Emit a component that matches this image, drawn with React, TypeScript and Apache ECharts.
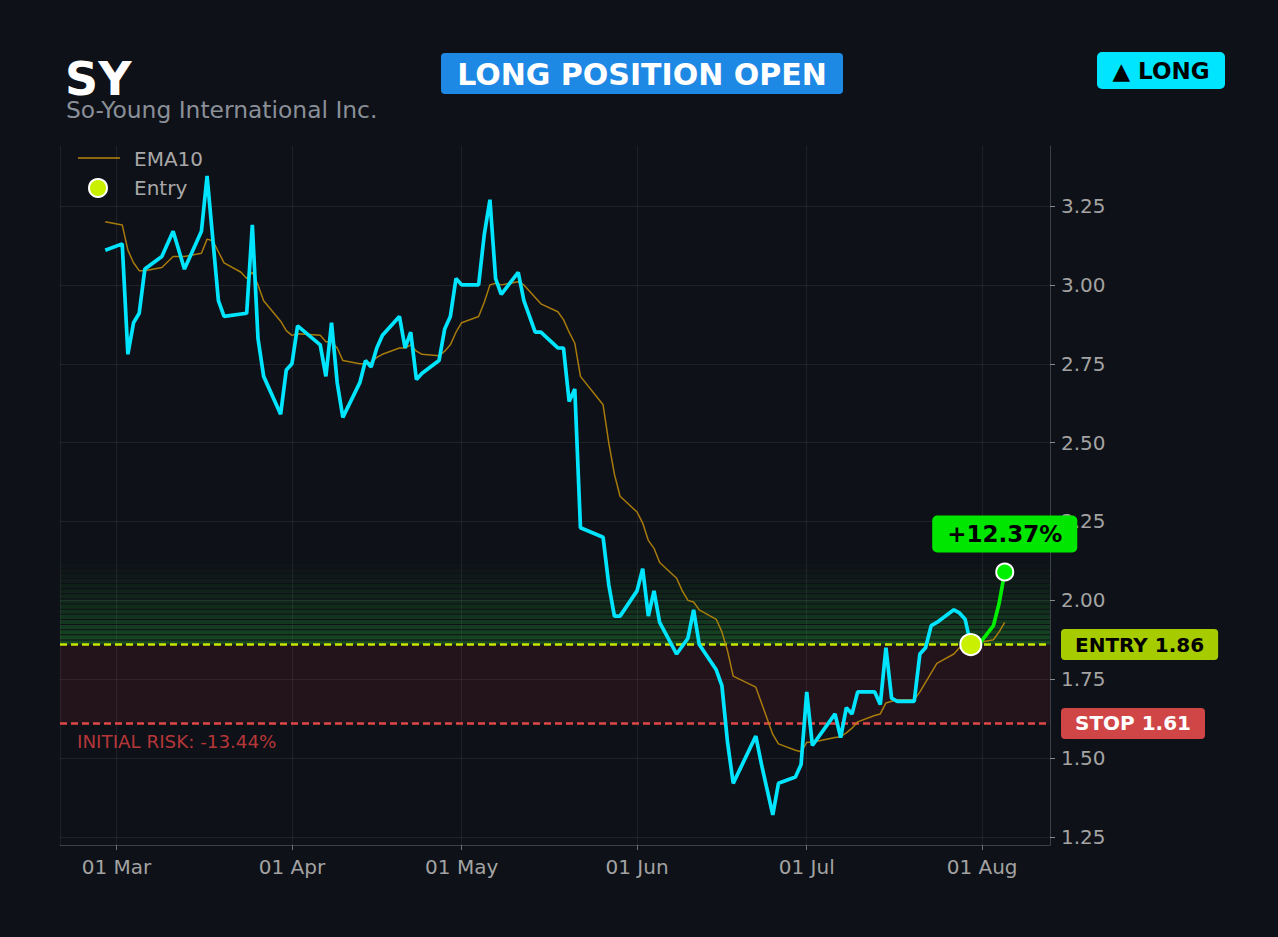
import React, { useEffect, useRef } from 'react';
import * as echarts from 'echarts';

const TICKER = 'SY';
const COMPANY = 'So-Young International Inc.';
const STATUS = 'LONG POSITION OPEN';
const SIDE = '▲ LONG';

const ENTRY = 1.86;
const STOP = 1.61;
const ZONE_TOP = 2.12;

const X_MIN = '2026-02-19';
const X_MAX = '2026-08-13';
const Y_MIN = 1.2246;
const Y_MAX = 3.4402;
const Y_TICKS = [1.25, 1.5, 1.75, 2.0, 2.25, 2.5, 2.75, 3.0, 3.25];
const MONTHS = ['Jan', 'Feb', 'Mar', 'Apr', 'May', 'Jun', 'Jul', 'Aug', 'Sep', 'Oct', 'Nov', 'Dec'];

const PRICE: [string, number][] = [
  ['2026-02-27', 3.11], ['2026-03-02', 3.13], ['2026-03-03', 2.78], ['2026-03-04', 2.88],
  ['2026-03-05', 2.91], ['2026-03-06', 3.05], ['2026-03-09', 3.09], ['2026-03-11', 3.17],
  ['2026-03-13', 3.05], ['2026-03-16', 3.17], ['2026-03-17', 3.345], ['2026-03-19', 2.95],
  ['2026-03-20', 2.90], ['2026-03-24', 2.91], ['2026-03-25', 3.19], ['2026-03-26', 2.83],
  ['2026-03-27', 2.71], ['2026-03-30', 2.59], ['2026-03-31', 2.73], ['2026-04-01', 2.75],
  ['2026-04-02', 2.87], ['2026-04-06', 2.81], ['2026-04-07', 2.71], ['2026-04-08', 2.88],
  ['2026-04-09', 2.69], ['2026-04-10', 2.58], ['2026-04-13', 2.69], ['2026-04-14', 2.76],
  ['2026-04-15', 2.74], ['2026-04-16', 2.80], ['2026-04-17', 2.84], ['2026-04-20', 2.90],
  ['2026-04-21', 2.80], ['2026-04-22', 2.85], ['2026-04-23', 2.70], ['2026-04-24', 2.72],
  ['2026-04-27', 2.76], ['2026-04-28', 2.86], ['2026-04-29', 2.90], ['2026-04-30', 3.02],
  ['2026-05-01', 3.00], ['2026-05-04', 3.00], ['2026-05-05', 3.16], ['2026-05-06', 3.27],
  ['2026-05-07', 3.02], ['2026-05-08', 2.97], ['2026-05-11', 3.04], ['2026-05-12', 2.95],
  ['2026-05-14', 2.85], ['2026-05-15', 2.85], ['2026-05-18', 2.80], ['2026-05-19', 2.80],
  ['2026-05-20', 2.63], ['2026-05-21', 2.67], ['2026-05-22', 2.23], ['2026-05-26', 2.20],
  ['2026-05-27', 2.05], ['2026-05-28', 1.95], ['2026-05-29', 1.95], ['2026-06-01', 2.03],
  ['2026-06-02', 2.10], ['2026-06-03', 1.95], ['2026-06-04', 2.03], ['2026-06-05', 1.93],
  ['2026-06-08', 1.83], ['2026-06-10', 1.88], ['2026-06-11', 1.97], ['2026-06-12', 1.86],
  ['2026-06-15', 1.78], ['2026-06-16', 1.73], ['2026-06-17', 1.55], ['2026-06-18', 1.42],
  ['2026-06-22', 1.57], ['2026-06-23', 1.48], ['2026-06-25', 1.32], ['2026-06-26', 1.42],
  ['2026-06-29', 1.44], ['2026-06-30', 1.48], ['2026-07-01', 1.71], ['2026-07-02', 1.54],
  ['2026-07-06', 1.64], ['2026-07-07', 1.565], ['2026-07-08', 1.66], ['2026-07-09', 1.64],
  ['2026-07-10', 1.71], ['2026-07-13', 1.71], ['2026-07-14', 1.67], ['2026-07-15', 1.85],
  ['2026-07-16', 1.69], ['2026-07-17', 1.68], ['2026-07-20', 1.68], ['2026-07-21', 1.83],
  ['2026-07-22', 1.85], ['2026-07-23', 1.92], ['2026-07-24', 1.93], ['2026-07-27', 1.97],
  ['2026-07-28', 1.96], ['2026-07-29', 1.94], ['2026-07-30', 1.86],
];

const AFTER_ENTRY: [string, number][] = [
  ['2026-07-30', 1.86], ['2026-07-31', 1.85], ['2026-08-03', 1.92], ['2026-08-04', 1.99], ['2026-08-05', 2.09],
];

const EMA10: [string, number][] = [
  ['2026-02-27', 3.20], ['2026-03-02', 3.19], ['2026-03-03', 3.11], ['2026-03-04', 3.07],
  ['2026-03-05', 3.045], ['2026-03-06', 3.045], ['2026-03-09', 3.055], ['2026-03-11', 3.09],
  ['2026-03-13', 3.09], ['2026-03-16', 3.10], ['2026-03-17', 3.145], ['2026-03-18', 3.14],
  ['2026-03-19', 3.105], ['2026-03-20', 3.07], ['2026-03-23', 3.04], ['2026-03-24', 3.02],
  ['2026-03-25', 3.04], ['2026-03-26', 3.00], ['2026-03-27', 2.95], ['2026-03-30', 2.885],
  ['2026-03-31', 2.855], ['2026-04-01', 2.84], ['2026-04-02', 2.845], ['2026-04-06', 2.84],
  ['2026-04-07', 2.82], ['2026-04-08', 2.82], ['2026-04-09', 2.80], ['2026-04-10', 2.76],
  ['2026-04-13', 2.75], ['2026-04-14', 2.75], ['2026-04-15', 2.755], ['2026-04-16', 2.77],
  ['2026-04-17', 2.78], ['2026-04-20', 2.80], ['2026-04-21', 2.80], ['2026-04-22', 2.81],
  ['2026-04-23', 2.79], ['2026-04-24', 2.78], ['2026-04-27', 2.775], ['2026-04-28', 2.79],
  ['2026-04-29', 2.81], ['2026-04-30', 2.85], ['2026-05-01', 2.88], ['2026-05-04', 2.90],
  ['2026-05-05', 2.945], ['2026-05-06', 3.00], ['2026-05-07', 3.005], ['2026-05-08', 3.00],
  ['2026-05-11', 3.01], ['2026-05-12', 3.00], ['2026-05-13', 2.98], ['2026-05-14', 2.96],
  ['2026-05-15', 2.94], ['2026-05-18', 2.915], ['2026-05-19', 2.89], ['2026-05-20', 2.85],
  ['2026-05-21', 2.815], ['2026-05-22', 2.71], ['2026-05-26', 2.62], ['2026-05-27', 2.50],
  ['2026-05-28', 2.40], ['2026-05-29', 2.33], ['2026-06-01', 2.28], ['2026-06-02', 2.245],
  ['2026-06-03', 2.19], ['2026-06-04', 2.165], ['2026-06-05', 2.12], ['2026-06-08', 2.07],
  ['2026-06-09', 2.03], ['2026-06-10', 2.00], ['2026-06-11', 1.995], ['2026-06-12', 1.97],
  ['2026-06-15', 1.94], ['2026-06-16', 1.90], ['2026-06-17', 1.84], ['2026-06-18', 1.76],
  ['2026-06-22', 1.725], ['2026-06-23', 1.675], ['2026-06-24', 1.625], ['2026-06-25', 1.575],
  ['2026-06-26', 1.545], ['2026-06-29', 1.525], ['2026-06-30', 1.52], ['2026-07-01', 1.55],
  ['2026-07-02', 1.55], ['2026-07-06', 1.565], ['2026-07-07', 1.568], ['2026-07-08', 1.58],
  ['2026-07-09', 1.595], ['2026-07-10', 1.615], ['2026-07-13', 1.635], ['2026-07-14', 1.64],
  ['2026-07-15', 1.675], ['2026-07-16', 1.68], ['2026-07-17', 1.685], ['2026-07-20', 1.685],
  ['2026-07-21', 1.71], ['2026-07-22', 1.74], ['2026-07-23', 1.77], ['2026-07-24', 1.80],
  ['2026-07-27', 1.83], ['2026-07-28', 1.85], ['2026-07-29', 1.87], ['2026-07-30', 1.87],
  ['2026-07-31', 1.865], ['2026-08-03', 1.875], ['2026-08-04', 1.90], ['2026-08-05', 1.93],
];

const FONT = '"DejaVu Sans", sans-serif';
const BG = '#0e1117';

function buildOption() {
  const last = AFTER_ENTRY[AFTER_ENTRY.length - 1];
  const gainPct = ((last[1] - ENTRY) / ENTRY) * 100;
  const riskPct = ((STOP - ENTRY) / ENTRY) * 100;
  const gainText = (gainPct >= 0 ? '+' : '') + gainPct.toFixed(2) + '%';
  const riskText = 'INITIAL RISK: ' + riskPct.toFixed(2) + '%';

  const N = 16;
  const step = (ZONE_TOP - ENTRY) / N;
  const zones: any[] = [];
  zones.push([{ yAxis: STOP, itemStyle: { color: 'rgba(220,50,60,0.10)' } }, { yAxis: ENTRY }]);
  for (let i = 0; i < N; i++) {
    const lo = ENTRY + i * step;
    const hi = lo + step * 0.8;
    const a = 0.015 + 0.35 * Math.pow(1 - i / N, 1.3);
    zones.push([{ yAxis: lo, itemStyle: { color: `rgba(40,170,55,${a.toFixed(3)})` } }, { yAxis: hi }]);
  }

  const gridColor = 'rgba(255,255,255,0.07)';
  const axisColor = '#3b3f46';
  const labelColor = '#a3a3a3';

  return {
    animation: false,
    backgroundColor: BG,
    textStyle: { fontFamily: FONT },
    grid: { left: 60, right: 228, top: 146, bottom: 92 },
    xAxis: {
      type: 'time',
      min: X_MIN,
      max: X_MAX,
      minInterval: 28 * 86400000,
      maxInterval: 31 * 86400000,
      axisLine: { show: true, lineStyle: { color: axisColor, width: 1 } },
      axisTick: { show: true, length: 5, lineStyle: { color: '#6b6f76' } },
      splitLine: { show: true, lineStyle: { color: gridColor, width: 1 } },
      axisLabel: {
        color: labelColor,
        fontSize: 20,
        margin: 12,
        fontFamily: FONT,
        formatter: (v: number) => {
          const d = new Date(v);
          return String(d.getDate()).padStart(2, '0') + ' ' + MONTHS[d.getMonth()];
        },
      },
    },
    yAxis: {
      type: 'value',
      position: 'right',
      min: Y_MIN,
      max: Y_MAX,
      axisLine: { show: true, lineStyle: { color: axisColor, width: 1 } },
      axisTick: { show: true, length: 5, customValues: Y_TICKS, lineStyle: { color: '#8a8a8a' } },
      splitLine: { show: true, lineStyle: { color: gridColor, width: 1 } },
      axisLabel: {
        customValues: Y_TICKS,
        color: labelColor,
        fontSize: 20,
        margin: 11,
        fontFamily: FONT,
        formatter: (v: number) => v.toFixed(2),
      },
    },
    graphic: [
      { type: 'text', x: 65, y: 79, style: { text: TICKER, fill: '#ffffff', font: `bold 46px ${FONT}`, align: 'left', verticalAlign: 'middle', textAlign: 'left', textVerticalAlign: 'middle' } },
      { type: 'text', x: 66, y: 110, style: { text: COMPANY, fill: '#8a8f98', font: `23.4px ${FONT}`, align: 'left', verticalAlign: 'middle', textAlign: 'left', textVerticalAlign: 'middle' } },
      { type: 'rect', shape: { x: 441, y: 53, width: 402, height: 41, r: 4 }, style: { fill: '#1e88e5' } },
      { type: 'text', x: 642, y: 74, style: { text: STATUS, fill: '#ffffff', font: `bold 30px ${FONT}`, align: 'center', verticalAlign: 'middle', textAlign: 'center', textVerticalAlign: 'middle' } },
      { type: 'rect', shape: { x: 1097, y: 52, width: 128, height: 37, r: 5 }, style: { fill: '#00e5ff' } },
      { type: 'text', x: 1161, y: 71, style: { text: SIDE, fill: '#000000', font: `bold 23px ${FONT}`, align: 'center', verticalAlign: 'middle', textAlign: 'center', textVerticalAlign: 'middle' } },
      { type: 'line', shape: { x1: 78, y1: 158, x2: 120, y2: 158 }, style: { stroke: '#b8860b', lineWidth: 1.5 } },
      { type: 'text', x: 134, y: 159, style: { text: 'EMA10', fill: '#a8a8a8', font: `20px ${FONT}`, align: 'left', verticalAlign: 'middle', textAlign: 'left', textVerticalAlign: 'middle' } },
      { type: 'circle', shape: { cx: 98, cy: 188, r: 9 }, style: { fill: '#c8f000', stroke: '#ffffff', lineWidth: 2 } },
      { type: 'text', x: 134, y: 188, style: { text: 'Entry', fill: '#a8a8a8', font: `20px ${FONT}`, align: 'left', verticalAlign: 'middle', textAlign: 'left', textVerticalAlign: 'middle' } },
      { type: 'text', x: 77, y: 741, style: { text: riskText, fill: 'rgba(205,60,62,0.9)', font: `18.3px ${FONT}`, align: 'left', verticalAlign: 'middle', textAlign: 'left', textVerticalAlign: 'middle' } },
    ],
    series: [
      {
        name: 'EMA10',
        type: 'line',
        data: EMA10,
        symbol: 'none',
        z: 3,
        lineStyle: { color: '#b8860b', width: 1.5, opacity: 0.9 },
        markArea: { silent: true, data: zones },
      },
      {
        name: 'Price',
        type: 'line',
        data: PRICE,
        symbol: 'none',
        z: 4,
        lineStyle: { color: '#00e5ff', width: 3.7 },
        markLine: {
          silent: true,
          symbol: ['none', 'none'],
          z: 1.5,
          data: [
            {
              yAxis: ENTRY,
              lineStyle: { color: '#c8e600', type: [7, 4], width: 2.5 },
              label: {
                show: true, position: 'end', distance: 11, formatter: 'ENTRY ' + ENTRY.toFixed(2),
                color: '#000000', fontWeight: 'bold', fontSize: 20, fontFamily: FONT,
                backgroundColor: '#a6cc00', padding: [5.5, 14], borderRadius: 4,
              },
            },
            {
              yAxis: STOP,
              lineStyle: { color: '#e04848', type: [7, 4], width: 2.5 },
              label: {
                show: true, position: 'end', distance: 11, formatter: 'STOP ' + STOP.toFixed(2),
                color: '#ffffff', fontWeight: 'bold', fontSize: 20, fontFamily: FONT,
                backgroundColor: '#d04545', padding: [5.5, 14], borderRadius: 4,
              },
            },
          ],
        },
      },
      {
        name: 'Since entry',
        type: 'line',
        data: AFTER_ENTRY,
        symbol: 'none',
        z: 5,
        lineStyle: { color: '#00ee00', width: 3.7 },
      },
      {
        name: 'Entry',
        type: 'scatter',
        data: [AFTER_ENTRY[0]],
        symbolSize: 21,
        z: 6,
        itemStyle: { color: '#c8f000', borderColor: '#ffffff', borderWidth: 2, opacity: 1 },
      },
      {
        name: 'Last',
        type: 'scatter',
        data: [last],
        symbolSize: 17,
        z: 6,
        itemStyle: { color: '#00ee00', borderColor: '#ffffff', borderWidth: 2, opacity: 1 },
        label: {
          show: true, position: 'top', distance: 10, formatter: gainText,
          color: '#000000', fontWeight: 'bold', fontSize: 23, fontFamily: FONT,
          backgroundColor: '#00e600', padding: [7, 15], borderRadius: 5,
        },
      },
    ],
  };
}

export default function App() {
  const ref = useRef<HTMLDivElement>(null);
  useEffect(() => {
    if (!ref.current) return;
    const chart = echarts.init(ref.current, null, { renderer: 'svg' });
    chart.setOption(buildOption() as any);
    return () => chart.dispose();
  }, []);
  return (
    <div
      ref={ref}
      style={{ position: 'fixed', left: 0, top: 0, width: 1278, height: 937, background: BG }}
    />
  );
}
